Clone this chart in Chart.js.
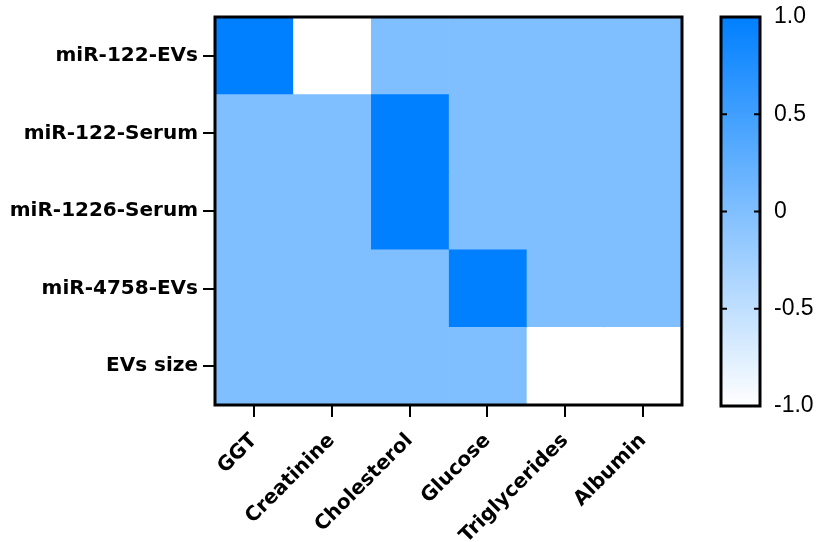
<!DOCTYPE html>
<html>
<head>
<meta charset="utf-8">
<script src="https://cdn.jsdelivr.net/npm/chart.js@4"></script>
<style>
	body { margin: 0; background: #fff; }
	#wrap { position: relative; width: 819px; height: 542px; }
	#hChart { position: absolute; left: 0; top: 0; }
	#cChart { position: absolute; left: 700px; top: 0; }
</style>
</head>
<body>
<div id="wrap">
	<canvas id="hChart" width="819" height="542"></canvas>
	<canvas id="cChart" width="119" height="542"></canvas>
</div>
<script>
const rowLabels = ["miR-122-EVs", "miR-122-Serum", "miR-1226-Serum", "miR-4758-EVs", "EVs size"];
const colLabels = ["GGT", "Creatinine", "Cholesterol", "Glucose", "Triglycerides", "Albumin"];
// one row per miRNA, one value per column (correlation, -1..1)
const rowEVs122 = [1, -1, 0, 0, 0, 0];
const rowSerum122 = [0, 0, 1, 0, 0, 0];
const rowSerum1226 = [0, 0, 1, 0, 0, 0];
const rowEVs4758 = [0, 0, 0, 1, 0, 0];
const rowEVsSize = [0, 0, 0, 0, -1, -1];
const colorTicks = [-1, -0.5, 0, 0.5, 1];

const values = [rowEVs122, rowSerum122, rowSerum1226, rowEVs4758, rowEVsSize];

function colorFor(v) {
	const t = (v + 1) / 2;
	const r = Math.round(255 + (0 - 255) * t);
	const g = Math.round(255 + (127 - 255) * t);
	return "rgb(" + r + "," + g + ",255)";
}

const frame = {
	id: "frame",
	afterDraw(chart) {
		const a = chart.chartArea;
		const c = chart.ctx;
		c.save();
		c.strokeStyle = "#000";
		c.lineWidth = 3;
		c.strokeRect(a.left, a.top, a.right - a.left, a.bottom - a.top);
		c.restore();
	},
};

const labelFont = { family: "DejaVu Sans", size: 20, weight: "bold" };

new Chart(document.getElementById("hChart"), {
	type: "bar",
	data: {
		labels: rowLabels,
		datasets: colLabels.map((col, c) => ({
			label: col,
			data: rowLabels.map(() => 1),
			backgroundColor: values.map((row) => colorFor(row[c])),
			borderWidth: 0,
			barPercentage: 1,
			categoryPercentage: 1,
		})),
	},
	options: {
		indexAxis: "y",
		responsive: false,
		animation: false,
		layout: { padding: { top: 17, right: 137, left: 0, bottom: 0 } },
		plugins: {
			legend: { display: false },
			tooltip: { enabled: false },
		},
		scales: {
			x: {
				type: "linear",
				stacked: true,
				min: 0,
				max: colLabels.length,
				afterBuildTicks: (scale) => {
					scale.ticks = colLabels.map((_, i) => ({ value: i + 0.5 }));
				},
				afterFit: (scale) => { scale.height = 137; },
				ticks: {
					autoSkip: false,
					maxRotation: 45,
					minRotation: 45,
					padding: 12,
					color: "#000",
					font: labelFont,
					callback: (v, i) => colLabels[i],
				},
				grid: { drawOnChartArea: false, tickLength: 12, color: "#000", lineWidth: 2 },
				border: { display: false },
			},
			y: {
				stacked: true,
				afterFit: (scale) => { scale.width = 215; },
				ticks: { padding: 5, color: "#000", font: labelFont },
				grid: { offset: false, drawOnChartArea: false, tickLength: 12, color: "#000", lineWidth: 2 },
				border: { display: false },
			},
		},
	},
	plugins: [frame],
});

const innerTicks = {
	id: "innerTicks",
	afterDraw(chart) {
		const a = chart.chartArea;
		const s = chart.scales.y;
		const c = chart.ctx;
		c.save();
		c.strokeStyle = "#000";
		c.lineWidth = 2;
		colorTicks.slice(1, -1).forEach((v) => {
			const y = s.getPixelForValue(v);
			c.beginPath();
			c.moveTo(a.left, y);
			c.lineTo(a.left + 6, y);
			c.moveTo(a.right - 6, y);
			c.lineTo(a.right, y);
			c.stroke();
		});
		c.restore();
	},
};

new Chart(document.getElementById("cChart"), {
	type: "bar",
	data: {
		labels: [""],
		datasets: [
			{
				data: [[colorTicks[0], colorTicks[colorTicks.length - 1]]],
				backgroundColor: (ctx) => {
					const area = ctx.chart.chartArea;
					if (!area) return colorFor(0);
					const g = ctx.chart.ctx.createLinearGradient(0, area.bottom, 0, area.top);
					g.addColorStop(0, colorFor(-1));
					g.addColorStop(0.5, colorFor(0));
					g.addColorStop(1, colorFor(1));
					return g;
				},
				borderWidth: 0,
				barPercentage: 1,
				categoryPercentage: 1,
			},
		],
	},
	options: {
		responsive: false,
		animation: false,
		layout: { padding: { top: 17, left: 21, right: 0, bottom: 136 } },
		plugins: {
			legend: { display: false },
			tooltip: { enabled: false },
		},
		scales: {
			x: { display: false },
			y: {
				position: "right",
				min: -1,
				max: 1,
				afterBuildTicks: (scale) => {
					scale.ticks = colorTicks.map((v) => ({ value: v }));
				},
				afterFit: (scale) => {
					scale.width = 59;
					scale.paddingTop = 0;
					scale.paddingBottom = 0;
				},
				ticks: {
					padding: 14,
					color: "#000",
					font: { family: "Liberation Sans", size: 23 },
					callback: (v) => (v === 0 ? "0" : v.toFixed(1)),
				},
				grid: { display: false, drawTicks: false },
				border: { display: false },
			},
		},
	},
	plugins: [frame, innerTicks],
});
</script>
</body>
</html>
